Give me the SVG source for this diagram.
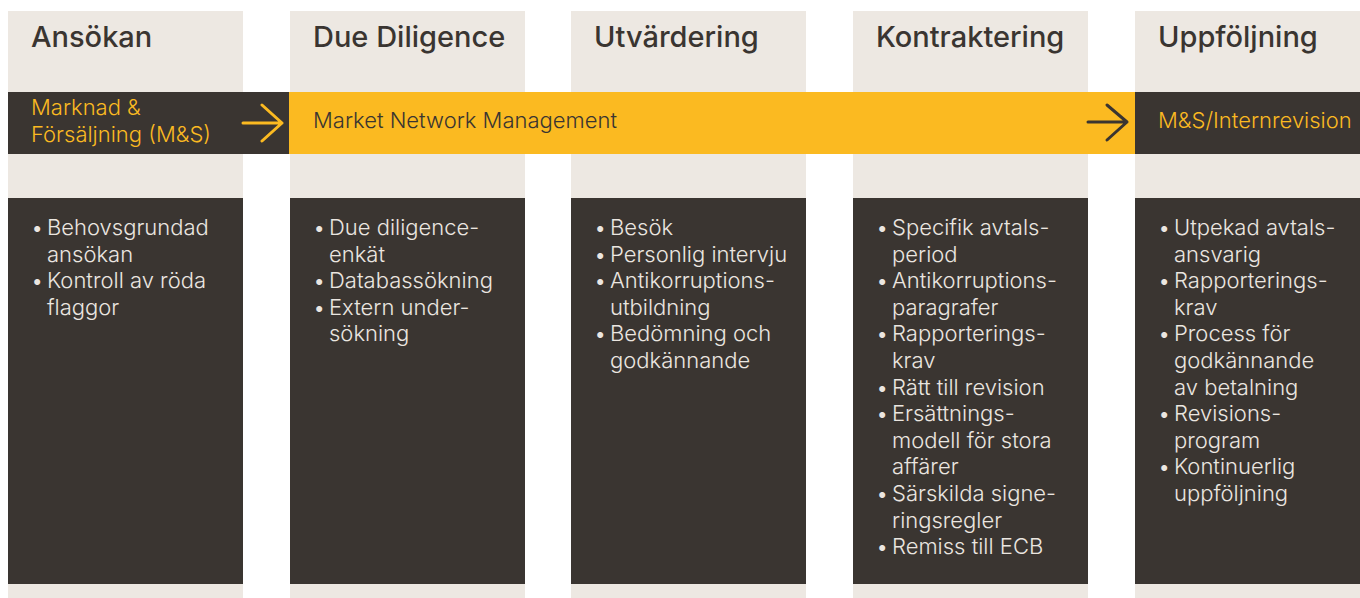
<svg xmlns="http://www.w3.org/2000/svg" width="1360" height="598" viewBox="0 0 1360 598">
<style>
.bg{fill:#ede8e2}
.dk{fill:#3a3531}
.yl{fill:#fbba21}
.title{font-family:Inter,"Noto Sans","Liberation Sans",sans-serif;font-size:29px;font-weight:500;fill:#3a3531}
.band{font-family:Inter,"Noto Sans","Liberation Sans",sans-serif;font-size:22px;font-weight:300}
.li{font-family:Inter,"Noto Sans","Liberation Sans",sans-serif;font-size:22px;font-weight:300;fill:#ebe6e0}
.arr{fill:none;stroke-width:3;stroke-linecap:round;stroke-linejoin:round}
</style>
<rect width="1360" height="598" fill="#ffffff"/>
<g id="col-ansokan">
<rect class="bg" x="8" y="11" width="235" height="587"/>
<rect class="dk" x="8" y="198" width="235" height="386"/>
<text class="title" x="31" y="47">Ansökan</text>
<text class="li"><tspan x="31" y="235">•</tspan><tspan x="47" y="235">Behovsgrundad</tspan><tspan x="47" y="261.6">ansökan</tspan><tspan x="31" y="288.2">•</tspan><tspan x="47" y="288.2">Kontroll av röda</tspan><tspan x="47" y="314.8">flaggor</tspan></text>
</g>
<g id="col-due">
<rect class="bg" x="290" y="11" width="235" height="587"/>
<rect class="dk" x="290" y="198" width="235" height="386"/>
<text class="title" x="313" y="47">Due Diligence</text>
<text class="li"><tspan x="313" y="235">•</tspan><tspan x="329" y="235">Due diligence-</tspan><tspan x="329" y="261.6">enkät</tspan><tspan x="313" y="288.2">•</tspan><tspan x="329" y="288.2">Databassökning</tspan><tspan x="313" y="314.8">•</tspan><tspan x="329" y="314.8">Extern under-</tspan><tspan x="329" y="341.4">sökning</tspan></text>
</g>
<g id="col-utv">
<rect class="bg" x="571" y="11" width="235" height="587"/>
<rect class="dk" x="571" y="198" width="235" height="386"/>
<text class="title" x="594" y="47">Utvärdering</text>
<text class="li"><tspan x="594" y="235">•</tspan><tspan x="610" y="235">Besök</tspan><tspan x="594" y="261.6">•</tspan><tspan x="610" y="261.6">Personlig intervju</tspan><tspan x="594" y="288.2">•</tspan><tspan x="610" y="288.2">Antikorruptions-</tspan><tspan x="610" y="314.8">utbildning</tspan><tspan x="594" y="341.4">•</tspan><tspan x="610" y="341.4">Bedömning och</tspan><tspan x="610" y="368">godkännande</tspan></text>
</g>
<g id="col-kontr">
<rect class="bg" x="853" y="11" width="235" height="587"/>
<rect class="dk" x="853" y="198" width="235" height="386"/>
<text class="title" x="876" y="47">Kontraktering</text>
<text class="li"><tspan x="876" y="235">•</tspan><tspan x="892" y="235">Specifik avtals-</tspan><tspan x="892" y="261.6">period</tspan><tspan x="876" y="288.2">•</tspan><tspan x="892" y="288.2">Antikorruptions-</tspan><tspan x="892" y="314.8">paragrafer</tspan><tspan x="876" y="341.4">•</tspan><tspan x="892" y="341.4">Rapporterings-</tspan><tspan x="892" y="368">krav</tspan><tspan x="876" y="394.6">•</tspan><tspan x="892" y="394.6">Rätt till revision</tspan><tspan x="876" y="421.2">•</tspan><tspan x="892" y="421.2">Ersättnings-</tspan><tspan x="892" y="447.8">modell för stora</tspan><tspan x="892" y="474.4">affärer</tspan><tspan x="876" y="501">•</tspan><tspan x="892" y="501">Särskilda signe-</tspan><tspan x="892" y="527.6">ringsregler</tspan><tspan x="876" y="554.2">•</tspan><tspan x="892" y="554.2">Remiss till ECB</tspan></text>
</g>
<g id="col-uppf">
<rect class="bg" x="1135" y="11" width="225" height="587"/>
<rect class="dk" x="1135" y="198" width="225" height="386"/>
<text class="title" x="1158" y="47">Uppföljning</text>
<text class="li"><tspan x="1158" y="235">•</tspan><tspan x="1174" y="235">Utpekad avtals-</tspan><tspan x="1174" y="261.6">ansvarig</tspan><tspan x="1158" y="288.2">•</tspan><tspan x="1174" y="288.2">Rapporterings-</tspan><tspan x="1174" y="314.8">krav</tspan><tspan x="1158" y="341.4">•</tspan><tspan x="1174" y="341.4">Process för</tspan><tspan x="1174" y="368">godkännande</tspan><tspan x="1174" y="394.6">av betalning</tspan><tspan x="1158" y="421.2">•</tspan><tspan x="1174" y="421.2">Revisions-</tspan><tspan x="1174" y="447.8">program</tspan><tspan x="1158" y="474.4">•</tspan><tspan x="1174" y="474.4">Kontinuerlig</tspan><tspan x="1174" y="501">uppföljning</tspan></text>
</g>
<g id="band-ms">
<rect class="dk" x="8" y="92" width="281" height="62"/>
<text class="band" fill="#fbba21"><tspan x="31" y="115">Marknad &amp;</tspan><tspan x="31" y="142">Försäljning (M&amp;S)</tspan></text>
</g>
<g id="band-mnm">
<rect class="yl" x="289" y="92" width="846" height="62"/>
<text class="band" fill="#3a3531" x="313" y="128">Market Network Management</text>
</g>
<g id="band-internrev">
<rect class="dk" x="1135" y="92" width="225" height="62"/>
<text class="band" fill="#fbba21" x="1158" y="128">M&amp;S/Internrevision</text>
</g>
<g id="connectors">
<path class="arr" stroke="#fbba21" d="M243 123H282M262 105L282 123L262 141"/>
<path class="arr" stroke="#3a3531" d="M1088 122H1127M1107 105L1127 122L1107 140"/>
</g>
</svg>
